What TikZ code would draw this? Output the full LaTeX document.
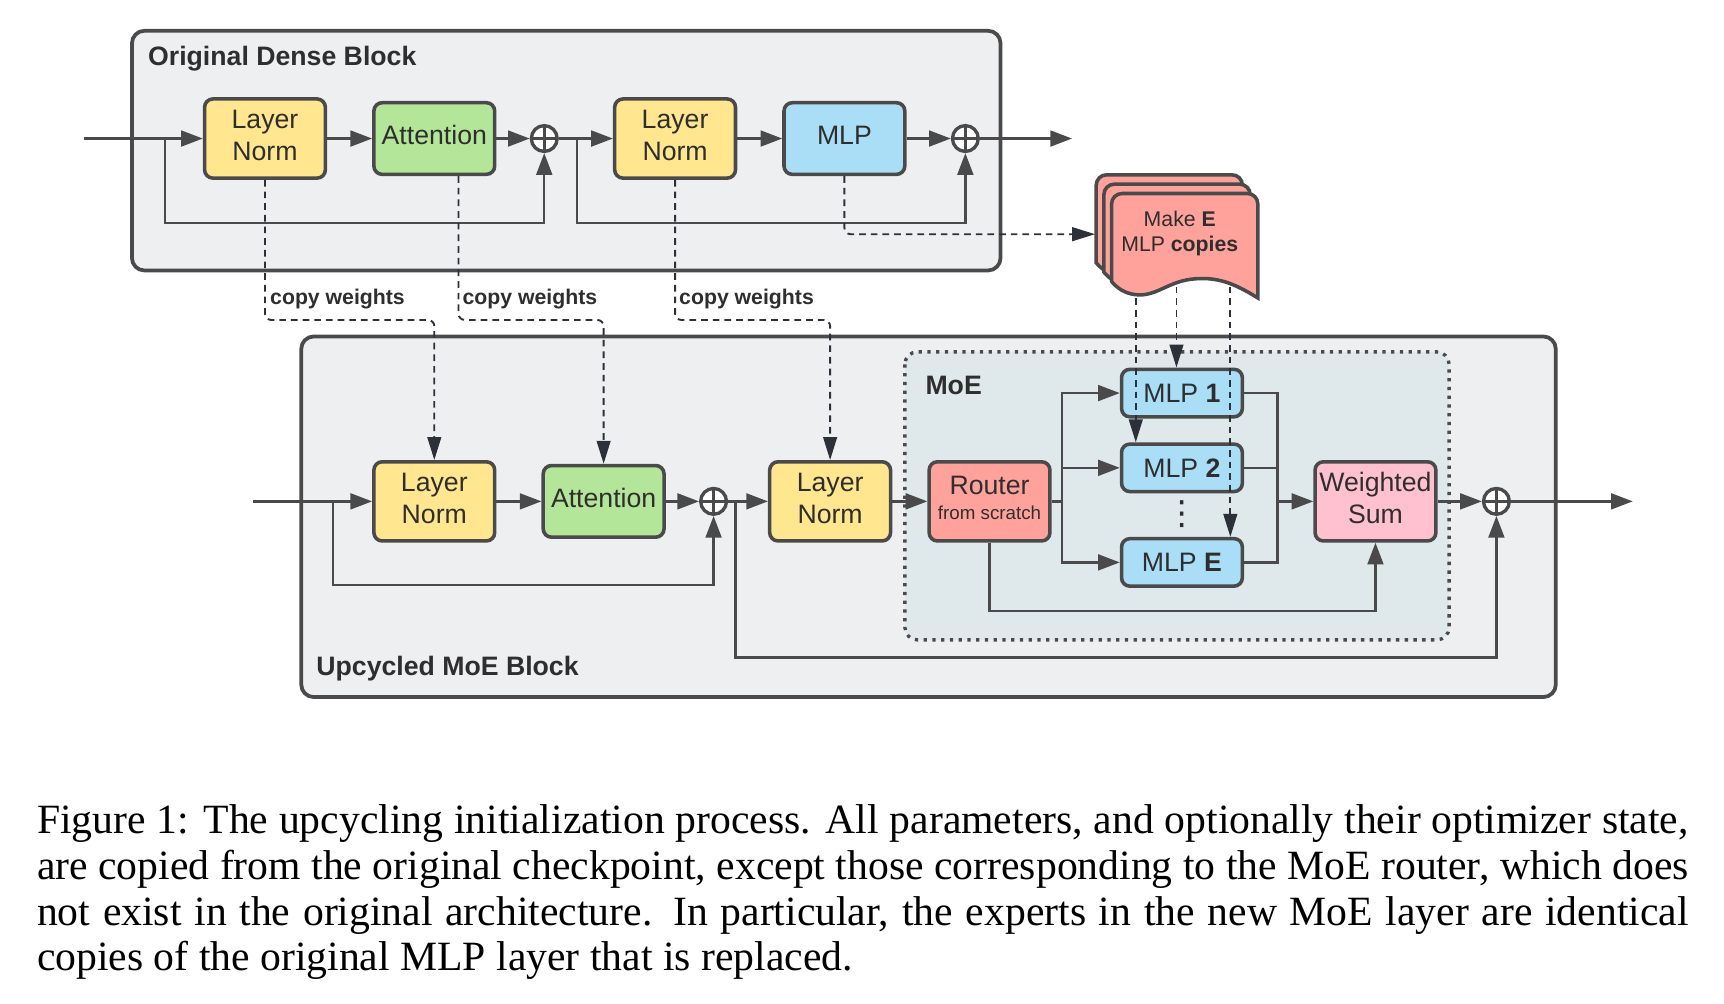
\documentclass[tikz,border=0pt]{standalone}
\usepackage{fontspec}
\setmainfont{Liberation Serif}
\setsansfont{Liberation Sans}
\newfontfamily\symbfont{DejaVu Sans}
\usetikzlibrary{arrows.meta,calc,positioning}

\definecolor{linec}{HTML}{4A4A4A}
\definecolor{dashc}{HTML}{2C3139}
\definecolor{txtc}{HTML}{2E2E2E}
\definecolor{blockc}{HTML}{EEEFF1}
\definecolor{moec}{HTML}{DFE9EB}
\definecolor{yellowc}{HTML}{FFE68F}
\definecolor{greenc}{HTML}{B3E699}
\definecolor{bluec}{HTML}{A9DEF6}
\definecolor{salmonc}{HTML}{FFA29C}
\definecolor{pinkc}{HTML}{FFC1D0}

\begin{document}
\begin{tikzpicture}[
  x=0.2639pt, y=-0.2639pt,
  > = {Triangle[length=5.2pt,width=3.8pt]},
  every node/.style = {font=\sffamily\fontsize{6.4}{7.6}\selectfont, text=txtc},
  box/.style = {draw=linec, line width=0.85pt, rounded corners=2pt, align=center, minimum width=29pt, inner sep=0pt},
  normbox/.style = {box, fill=yellowc, minimum height=19pt, text depth=1.6pt},
  attbox/.style = {box, fill=greenc, minimum height=17.2pt, text depth=1.6pt},
  mlpbox/.style = {box, fill=bluec, minimum height=17.2pt, text depth=1.6pt},
  expbox/.style = {box, fill=bluec, minimum height=11.4pt},
  routerbox/.style = {box, fill=salmonc, minimum height=19pt, text depth=1.6pt},
  sumbox/.style = {box, fill=pinkc, minimum height=19pt, text depth=1.6pt},
  plus/.style = {circle, draw=linec, line width=0.8pt, fill=white, minimum size=6.2pt, inner sep=0pt,
    path picture={\draw[linec, line width=0.8pt] (path picture bounding box.north) -- (path picture bounding box.south)
      (path picture bounding box.west) -- (path picture bounding box.east);}},
  flow/.style = {draw=linec, line width=0.55pt, ->},
  link/.style = {draw=linec, line width=0.55pt},
  copyline/.style = {draw=dashc, line width=0.45pt, dash pattern=on 1.6pt off 1.2pt, rounded corners=1.5pt,
    -{Triangle[length=5.5pt,width=3.3pt]}},
  blockframe/.style = {draw=linec, line width=0.9pt, fill=blockc, rounded corners=3pt},
  moeframe/.style = {draw=linec, line width=0.8pt, fill=moec, dash pattern=on 0.8pt off 1.3pt, rounded corners=3pt},
  title/.style = {font=\sffamily\bfseries\fontsize{6.4}{7.6}\selectfont, anchor=west, inner sep=0pt},
  cwlabel/.style = {font=\sffamily\bfseries\fontsize{5.1}{6}\selectfont, anchor=west, inner sep=0pt},
  copyshape/.style = {draw=linec, line width=0.85pt, fill=salmonc}
  ]
	\useasboundingbox (0,0) rectangle (1568,913);

	% blocks
	\draw[blockframe] (120,28) rectangle (910,246);
	\draw[blockframe] (274,306) rectangle (1415,634);
	\draw[moeframe] (823,320) rectangle (1318,582);
	\node[title] (dense) at (134,53) {Original Dense Block};
	\node[title] (upcycled) at (287,608) {Upcycled MoE Block};
	\node[title] (moe) at (841,351) {MoE};

	% original dense block
	\coordinate (in1) at (76,126);
	\coordinate (split1) at (150,126);
	\coordinate (split2) at (525,126);
	\coordinate (out1) at (975,126);
	\node[normbox] (ln1) at (241,126) {Layer\\Norm};
	\node[attbox] (att1) at (395,126) {Attention};
	\node[plus] (add1) at (495,126) {};
	\node[normbox] (ln2) at (614,126) {Layer\\Norm};
	\node[mlpbox] (mlp) at (768,126) {MLP};
	\node[plus] (add2) at (878,126) {};

	\draw[flow] (in1) -- (ln1);
	\draw[flow] (ln1) -- (att1);
	\draw[flow] (att1) -- (add1);
	\draw[flow] (add1) -- (ln2);
	\draw[flow] (ln2) -- (mlp);
	\draw[flow] (mlp) -- (add2);
	\draw[flow] (add2) -- (out1);
	\draw[flow] (split1) -- ++(0,77) -| (add1);
	\draw[flow] (split2) -- ++(0,77) -| (add2);

	% upcycled moe block
	\coordinate (in2) at (230,456);
	\coordinate (split3) at (303,456);
	\coordinate (split4) at (669,456);
	\coordinate (fanout) at (966,456);
	\coordinate (fanin) at (1162,456);
	\coordinate (out2) at (1485,456);
	\node[normbox] (lnb1) at (395,456) {Layer\\Norm};
	\node[attbox] (attb) at (549,456) {Attention};
	\node[plus] (addb1) at (649,456) {};
	\node[normbox] (lnb2) at (755,456) {Layer\\Norm};
	\node[routerbox] (router) at (900,456) {Router\\[-1.6pt]{\fontsize{4.5}{5.4}\selectfont from scratch}};
	\node[expbox] (mlpA) at (1075,357.5) {MLP \textbf{1}};
	\node[expbox] (mlpB) at (1075,425.5) {MLP \textbf{2}};
	\node[expbox] (mlpE) at (1075,511.5) {MLP \textbf{E}};
	\node[inner sep=0pt, font=\symbfont\fontsize{8}{9}\selectfont] (dots) at (1075,468) {⋮};
	\node[sumbox] (wsum) at (1251,456) {Weighted\\Sum};
	\node[plus] (addb2) at (1361,456) {};

	\draw[flow] (in2) -- (lnb1);
	\draw[flow] (lnb1) -- (attb);
	\draw[flow] (attb) -- (addb1);
	\draw[flow] (addb1) -- (lnb2);
	\draw[flow] (lnb2) -- (router);
	\draw[link] (router) -- (fanout);
	\draw[flow] (fanout) |- (mlpA);
	\draw[flow] (fanout) |- (mlpB);
	\draw[flow] (fanout) |- (mlpE);
	\draw[link] (mlpA) -| (fanin);
	\draw[link] (mlpB) -| (fanin);
	\draw[link] (mlpE) -| (fanin);
	\draw[flow] (fanin) -- (wsum);
	\draw[flow] (router.south) -- ++(0,62) -| (wsum.south);
	\draw[flow] (wsum) -- (addb2);
	\draw[flow] (addb2) -- (out2);
	\draw[flow] (split3) -- ++(0,76) -| (addb1);
	\draw[flow] (split4) -- ++(0,142) -| (addb2);

	% copy weights
	\coordinate (cwy) at (0,291);
	\draw[copyline] (ln1.south) |- (cwy -| lnb1) -- (lnb1.north);
	\draw[copyline] ([xshift=5.8pt]att1.south) |- (cwy -| attb) -- (attb.north);
	\draw[copyline] (ln2.south) |- (cwy -| lnb2) -- (lnb2.north);
	\node[cwlabel] (cw1) at (245,272) {copy weights};
	\node[cwlabel] (cw2) at (420,272) {copy weights};
	\node[cwlabel] (cw3) at (617,272) {copy weights};

	% make E copies
	\coordinate (copyin) at (996,213);
	\coordinate (copyTL) at (1011,176);
	\coordinate (cpA) at (1033,250);
	\coordinate (cpB) at (1070,250);
	\coordinate (cpE) at (1119,250);
	\draw[copyline] (mlp.south) |- (copyin);
	\draw[copyline] (cpA) -- (cpA |- mlpB.north);
	\draw[copyline] (cpB) -- (cpB |- mlpA.north);
	\draw[copyline] (cpE) -- (cpE |- mlpE.north);
	\foreach \dx/\dy in {-14/-17, -7/-8.5, 0/0}
	  \draw[copyshape, shift={($(copyTL)+(\dx,\dy)$)}] (0,80) {[rounded corners=2.5pt] -- (0,0) -- (133,0) -- (133,40)} -- (133,95)
	    .. controls (112,82) and (96,75) .. (72,78) .. controls (50,81) and (40,94) .. (22,92)
	    .. controls (12,91) and (5,86) .. (0,80) -- cycle;
	\node[align=center, font=\sffamily\fontsize{5.1}{6.1}\selectfont] (copies) at (1073,212.5) {Make \textbf{E}\\MLP \textbf{copies}};

	% caption
	\node[anchor=north west, inner sep=0pt, text width=396.4pt, align=justify, text=black,
	  font=\rmfamily\fontsize{10}{11}\selectfont] (caption) at (33,731)
	  {Figure 1: The upcycling initialization process. All parameters, and optionally their optimizer state,\linebreak
	   are copied from the original checkpoint, except those corresponding to the MoE router, which does\linebreak
	   not exist in the original architecture. In particular, the experts in the new MoE layer are identical\linebreak
	   copies of the original MLP layer that is replaced.};

\end{tikzpicture}
\end{document}
